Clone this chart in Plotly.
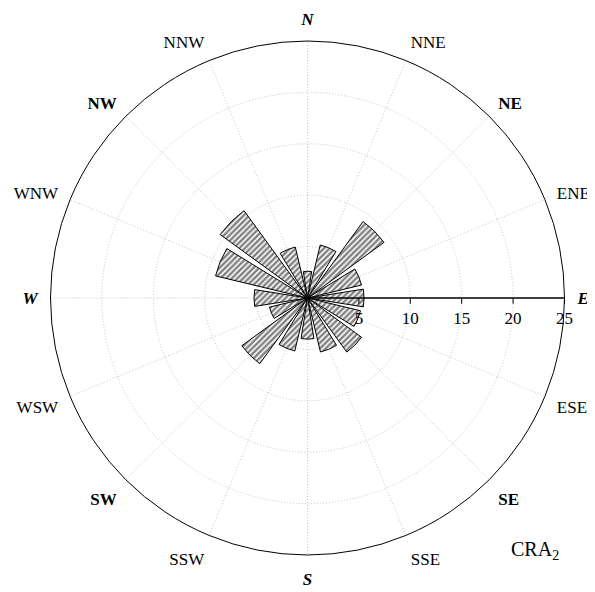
import plotly.graph_objects as go

directions = ["N", "NNE", "NE", "ENE", "E", "ESE", "SE", "SSE",
              "S", "SSW", "SW", "WSW", "W", "WNW", "NW", "NNW"]
frequency = [2.6, 5.3, 9.2, 5.4, 5.5, 5.3, 6.5, 5.4,
             4.0, 5.3, 7.9, 3.8, 5.2, 9.2, 10.5, 5.1]
direction_labels = ["<b><i>N</i></b>", "NNE", "<b>NE</b>", "ENE", "<b><i>E</i></b>", "ESE", "<b>SE</b>", "SSE",
                    "<b><i>S</i></b>", "SSW", "<b>SW</b>", "WSW", "<b><i>W</i></b>", "WNW", "<b>NW</b>", "NNW"]
radial_ticks = [5, 10, 15, 20, 25]
site_label = "CRA<sub>2</sub>"

step = 360 / len(directions)
angles = [i * step for i in range(len(directions))]

FONT = "Liberation Serif"

fig = go.Figure()
fig.add_trace(go.Barpolar(
    r=frequency,
    theta=angles,
    width=[18] * len(directions),
    marker=dict(
        color="white",
        line=dict(color="black", width=1),
        pattern=dict(shape="/", fgcolor="black", bgcolor="white", size=4, solidity=0.6),
    ),
    hovertext=directions,
    showlegend=False,
))

fig.update_layout(
    width=595, height=592,
    margin=dict(l=0, r=0, t=0, b=0),
    paper_bgcolor="white",
    font=dict(family=FONT, size=17, color="black"),
    polar=dict(
        domain=dict(x=[42.5 / 595, 556.5 / 595], y=[45 / 592, 559 / 592]),
        bgcolor="white",
        angularaxis=dict(
            rotation=90, direction="clockwise",
            tickmode="array", tickvals=angles, ticktext=direction_labels,
            ticks="outside", ticklen=9, tickcolor="rgba(0,0,0,0)",
            showline=True, linecolor="black", linewidth=1,
            showgrid=True, gridcolor="#c4c4c4", griddash="1px,2px", gridwidth=1,
            tickfont=dict(family=FONT, size=17, color="black"),
        ),
        radialaxis=dict(
            range=[0, 25], angle=0, side="clockwise",
            tickmode="array", tickvals=radial_ticks, ticktext=[str(v) for v in radial_ticks],
            ticks="outside", ticklen=5, tickcolor="black",
            showline=True, linecolor="black", linewidth=1.5,
            showgrid=True, gridcolor="#c4c4c4", griddash="1px,2px", gridwidth=1,
            tickfont=dict(family=FONT, size=17, color="black"),
            tickangle=0,
        ),
    ),
    annotations=[dict(
        text=site_label, xref="paper", yref="paper", x=527 / 595, y=1 - 542 / 592,
        showarrow=False, font=dict(family=FONT, size=20, color="black"),
        xanchor="center", yanchor="middle",
    )],
)

fig.write_html("out.html")
